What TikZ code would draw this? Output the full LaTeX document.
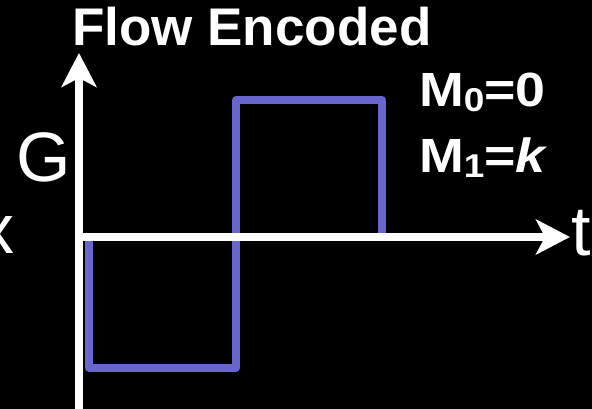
\documentclass[tikz,border=0pt]{standalone}
\usepackage{graphicx}
\usepackage{fontspec}
\setmainfont{Liberation Sans}
\usetikzlibrary{arrows.meta}
\definecolor{pulseblue}{RGB}{102,102,204}
\newcommand{\momsub}[1]{\raisebox{-5pt}{\fontsize{33}{33}\selectfont #1}}
\newcommand{\momtext}[1]{\scalebox{1.12}[1]{\fontsize{48}{52}\selectfont\bfseries #1}}

\begin{document}
\begin{tikzpicture}[x=1pt, y=-1pt,
    axis/.style={white, line width=7.5pt},
    pulse/.style={pulseblue, line width=7.5pt, line join=round, line cap=round},
    lbl/.style={white, inner sep=0pt}]
  % Background
  \fill[black] (0,0) rectangle (592,409);
  \useasboundingbox (0,0) rectangle (592,409);

  % Points
  \coordinate (O) at (79,237);
  \coordinate (Gtop) at (79,53);
  \coordinate (Gbot) at (79,409);
  \coordinate (Tend) at (570,237);

  % Gradient lobes
  \draw[pulse] (89,237) -- (89,368) -- (236,368) -- (236,100) -- (382,100) -- (382,237);

  % Axes
  \draw[axis, -{Stealth[length=34pt, width=35pt, inset=9pt]}] (Gbot) -- (Gtop);
  \draw[axis, -{Stealth[length=34pt, width=35pt, inset=9pt]}] (O) -- (Tend);

  % Labels
  \node(title) [lbl, anchor=base west] at (72,46) {\fontsize{53}{56}\selectfont\bfseries Flow Encoded};
  \node(M0) [lbl, anchor=base west] at (419,107) {\momtext{M\momsub{0}=0}};
  \node(M1) [lbl, anchor=base west] at (419,173) {\momtext{M\momsub{1}=\textit{k}}};
  \node(G) [lbl, anchor=base east] at (71,182) {\fontsize{70}{74}\selectfont G};
  \node(x) [lbl, anchor=base east] at (15,253) {\fontsize{70}{74}\selectfont x};
  \node(t) [lbl, anchor=base west] at (571,255) {\fontsize{70}{74}\selectfont t};

\end{tikzpicture}
\end{document}
